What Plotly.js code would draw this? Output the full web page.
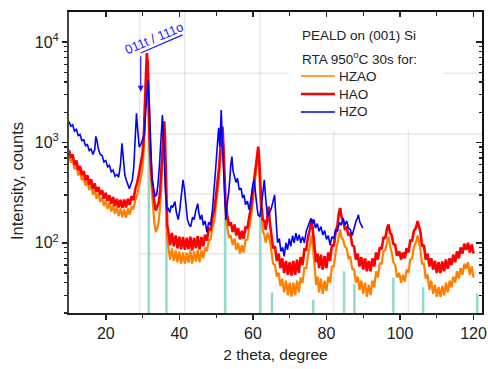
<!DOCTYPE html>
<html><head><meta charset="utf-8">
<script src="https://cdn.plot.ly/plotly-3.0.1.min.js"></script>
<style>html,body{margin:0;padding:0;background:#fff}#chart{width:488px;height:369px}</style>
</head><body><div id="chart"></div>
<script>
// Reference pattern lines (2theta, height)
const refX = [31.7, 36.5, 52.45, 62.0, 65.2, 76.4, 84.8, 87.6, 98.2, 106.3, 121.0];
const refH = [4900, 200, 180, 200, 32, 27, 52, 39, 45, 36, 31];

// Series names and legend heading
const seriesNames = ['HZAO', 'HAO', 'HZO'];
const seriesColors = ['#ff8000', '#ff0000', '#0000ff'];
const legendHeading = ['PEALD on (001) Si', 'RTA 950<sup>o</sup>C 30s for:'];

// HAO (red)
const haoX = [10,10.5,11,11.5,12,12.5,13,13.5,14,14.5,15,15.5,16,16.5,17,17.5,18,18.5,19,19.5,20,20.5,21,21.5,22,22.5,23,23.5,24,24.5,25,25.5,26,26.5,27,27.5,28,28.5,29,29.5,30,30.3,30.6,30.9,31.15,31.4,31.7,32,32.4,32.8,33.2,33.6,34,34.4,34.8,35.1,35.4,35.7,35.9,36.1,36.4,36.7,37,37.5,38,38.5,39,39.5,40,40.5,41,41.5,42,42.5,43,43.5,44,44.5,45,45.5,46,46.5,47,47.5,48,48.5,49,49.5,50,50.4,50.8,51.2,51.5,51.75,52,52.3,52.6,53,53.5,54,54.5,55,55.5,56,56.5,57,57.5,58,58.5,59,59.5,60,60.4,60.8,61.2,61.45,61.7,62,62.3,62.7,63.1,63.5,64,64.3,64.6,65,65.5,66,66.5,67,67.5,68,68.5,69,69.5,70,70.5,71,71.5,72,72.5,73,73.5,74,74.5,75,75.5,76,76.4,76.8,77.2,77.6,78,78.5,79,79.5,80,80.5,81,81.5,82,82.5,83,83.4,83.75,84.1,84.5,85,85.5,86,86.5,87,87.5,88,88.5,89,89.5,90,90.5,91,91.5,92,92.5,93,93.5,94,94.5,95,95.5,96,96.5,96.9,97.3,97.7,98.2,98.7,99.2,99.8,100.3,100.8,101.3,101.8,102.3,102.8,103.3,103.8,104.3,104.8,105.2,105.6,106,106.5,107,107.5,108,108.5,109,109.5,110,110.5,111,111.5,112,112.5,113,113.5,114,114.5,115,115.5,116,116.5,117,117.5,118,118.5,119,119.5,120];
const haoY = [840,700,760,600,660,530,580,470,520,420,470,380,430,345,390,320,360,300,335,275,315,262,298,245,285,232,275,225,268,222,270,225,275,238,290,265,340,390,480,600,780,1100,2600,5200,7800,6200,2100,900,500,330,250,210,235,250,340,520,900,1450,1620,1100,330,150,130,95,125,92,118,88,115,86,114,85,112,86,115,84,112,88,116,86,114,92,120,105,138,135,180,210,300,400,560,900,1300,1440,900,420,240,190,148,160,128,152,118,140,108,132,110,142,140,180,225,330,450,640,860,910,700,360,240,170,165,135,195,230,160,120,88,92,66,78,56,70,50,66,48,64,47,66,48,68,50,72,60,86,85,115,135,172,125,92,64,78,56,76,54,74,56,80,66,96,92,128,150,200,222,180,170,138,142,118,125,95,92,68,78,58,72,54,70,52,66,52,70,58,80,68,90,86,112,112,140,152,125,120,98,95,74,82,68,80,70,88,80,105,105,132,140,165,140,125,92,95,68,78,58,70,54,66,50,64,50,65,52,68,55,70,60,76,64,82,70,90,78,98,85,100,80,96,78];

// HZAO (orange)
const hzaoX = [10,10.5,11,11.5,12,12.5,13,13.5,14,14.5,15,15.5,16,16.5,17,17.5,18,18.5,19,19.5,20,20.5,21,21.5,22,22.5,23,23.5,24,24.5,25,25.5,26,26.5,27,27.5,28,28.5,29,29.5,30,30.3,30.6,30.9,31.2,31.4,31.7,32,32.4,32.8,33.2,33.6,34,34.4,34.8,35.1,35.4,35.7,35.9,36.1,36.4,36.7,37,37.5,38,38.5,39,39.5,40,40.5,41,41.5,42,42.5,43,43.5,44,44.5,45,45.5,46,46.5,47,47.5,48,48.5,49,49.5,50,50.4,50.8,51.2,51.5,51.75,52,52.3,52.6,53,53.5,54,54.5,55,55.5,56,56.5,57,57.5,58,58.5,59,59.5,60,60.4,60.8,61.2,61.45,61.7,62,62.3,62.7,63.1,63.5,64,64.3,64.6,65,65.5,66,66.5,67,67.5,68,68.5,69,69.5,70,70.5,71,71.5,72,72.5,73,73.5,74,74.5,75,75.5,76,76.4,76.8,77.2,77.6,78,78.5,79,79.5,80,80.5,81,81.5,82,82.5,83,83.4,83.75,84.1,84.5,85,85.5,86,86.5,87,87.5,88,88.5,89,89.5,90,90.5,91,91.5,92,92.5,93,93.5,94,94.5,95,95.5,96,96.5,96.9,97.3,97.7,98.2,98.7,99.2,99.8,100.3,100.8,101.3,101.8,102.3,102.8,103.3,103.8,104.3,104.8,105.2,105.6,106,106.5,107,107.5,108,108.5,109,109.5,110,110.5,111,111.5,112,112.5,113,113.5,114,114.5,115,115.5,116,116.5,117,117.5,118,118.5,119,119.5,120];
const hzaoY = [760,630,680,540,590,470,515,420,460,370,410,335,375,300,340,275,310,255,285,232,265,218,250,205,238,195,228,185,220,180,215,178,220,190,230,215,265,300,360,450,560,800,1800,3800,5600,4300,1500,700,380,240,160,128,140,165,230,380,650,1200,1420,900,250,110,90,68,88,66,84,64,82,62,80,62,80,63,84,62,82,65,85,64,84,70,90,82,105,108,140,165,240,320,440,720,1050,1150,720,330,185,145,112,118,95,110,85,100,78,95,80,105,108,140,180,260,360,510,690,730,560,290,190,130,120,100,125,118,105,78,62,60,46,50,37,44,32,42,30,40,29,40,30,42,32,45,40,56,56,75,92,118,85,58,38,46,32,44,31,42,33,46,40,58,58,80,98,125,136,112,108,92,88,70,72,55,54,40,46,34,42,31,40,29,38,30,42,36,52,45,62,62,82,85,105,116,92,82,64,60,45,50,40,48,41,54,50,68,70,92,100,118,98,84,62,62,44,48,34,42,31,38,29,36,29,37,30,40,32,42,36,46,40,52,44,56,48,62,55,64,48,58,45];

// HZO (blue)
const hzoX = [10,10.5,11,11.5,12,12.5,13,13.5,14,14.5,15,15.5,16,16.5,17,17.3,17.6,18,18.5,19,19.5,20,20.5,21,21.5,22,22.5,23,23.5,24,24.4,24.8,25.2,25.6,26,26.4,26.8,27.2,27.6,28,28.35,28.7,29.1,29.5,30,30.5,30.9,31.2,31.5,31.8,32.2,32.6,33,33.4,33.8,34.2,34.6,35,35.4,35.8,36.2,36.6,37,37.4,37.8,38.2,38.8,39.2,39.7,40.1,40.6,41,41.4,41.8,42.2,42.7,43.1,43.6,44,44.5,45,45.3,45.7,46.1,46.5,47,47.5,48,48.5,49,49.5,49.9,50.3,50.7,51,51.4,51.7,52,52.3,52.65,53,53.5,54,54.3,54.6,55,55.4,55.8,56.3,56.8,57.2,57.6,58,58.5,59,59.5,59.9,60.35,60.7,61,61.4,61.9,62.3,62.7,63.1,63.5,64,64.5,65,65.5,65.9,66.3,66.7,67.2,67.6,68.1,68.5,69,69.4,69.9,70.3,70.8,71.2,71.7,72.1,72.6,73,73.5,74,74.5,75,75.4,75.8,76.2,76.6,77,77.5,78,78.5,79,79.5,80,80.5,81,81.5,82,82.5,83,83.5,84,84.5,85,85.5,86,86.5,87,87.5,88,88.4,88.7,89.1,89.5,89.9];
const hzoY = [1620,1450,1500,1300,1350,1170,1200,1040,1060,930,950,830,860,760,850,1150,1050,860,760,740,640,660,570,590,510,530,460,480,450,600,980,700,470,420,380,345,380,420,560,1000,1950,1300,900,950,1050,1200,2200,3400,4200,2500,900,420,350,290,300,380,600,1100,1870,900,330,215,220,200,235,225,258,200,170,210,330,424,340,250,170,150,145,180,170,210,245,200,170,190,150,165,128,160,150,213,330,560,900,1400,900,2100,1000,540,300,170,240,337,600,724,520,450,400,440,337,350,280,300,240,260,213,280,363,424,300,248,190,182,230,330,424,270,182,200,220,260,300,170,100,110,82,90,73,100,85,110,92,118,100,125,105,120,100,115,100,130,145,160,175,155,170,140,155,130,145,120,132,108,118,95,115,110,135,130,160,150,176,150,165,140,135,118,140,163,175,190,160,150,140];

const font = "'Liberation Sans', Arial, sans-serif";
const xRange = [10, 122.3];
const yRange = [1.3, 4.3];
const xMajor = [20, 40, 60, 80, 100, 120];
const xMinor = [30, 50, 70, 90, 110];
const yMajor = [100, 1000, 10000];
const yMajorText = ['10<sup>2</sup>', '10<sup>3</sup>', '10<sup>4</sup>'];
const yMinor = [20,30,40,50,60,70,80,90,200,300,400,500,600,700,800,900,2000,3000,4000,5000,6000,7000,8000,9000];

// faint background grid of the original figure (interrupted by the legend box)
const gridX = [29.2, 41.45, 61.9, 82.0, 102.3];
const gridY = [4900, 1217, 307, 77.6];
const boxX = [69.5, 111.7];   // legend box, data units
const boxBottom = 1330;
const yTop = 20000, yBottom = 19.95;

const traces = [
  {type:'bar', x:refX, y:refH, width:0.7, marker:{color:'rgb(145,218,208)', line:{width:0}}, showlegend:false, hoverinfo:'skip'},
  {type:'scatter', mode:'lines', name:seriesNames[0], x:hzaoX, y:hzaoY, line:{color:seriesColors[0], width:2.2}, showlegend:false},
  {type:'scatter', mode:'lines', name:seriesNames[1], x:haoX, y:haoY, line:{color:seriesColors[1], width:2.6}, showlegend:false},
  {type:'scatter', mode:'lines', name:seriesNames[2], x:hzoX, y:hzoY, line:{color:seriesColors[2], width:1.6}, showlegend:false},
  {type:'scatter', x:[], y:[], xaxis:'x2', yaxis:'y2', showlegend:false, hoverinfo:'skip'}
];

// pixel helpers for the legend block (plot area: left 69, width 413, top 12, height 301)
const px = v => (v - 69) / 413;
const py = v => 1 - (v - 12) / 301;

const gridLine = {color:'rgba(0,0,0,0.09)', width:1.5};
const shapes = [];
gridX.forEach(v => {
  const inBox = v > boxX[0] && v < boxX[1];
  shapes.push({type:'line', layer:'below', xref:'x', yref:'y', x0:v, x1:v, y0:yBottom, y1:inBox ? boxBottom : yTop, line:gridLine});
});
gridY.forEach(v => {
  if (v > boxBottom) {
    shapes.push({type:'line', layer:'below', xref:'x', yref:'y', x0:gridX[0], x1:boxX[0], y0:v, y1:v, line:gridLine});
    shapes.push({type:'line', layer:'below', xref:'x', yref:'y', x0:boxX[1], x1:xRange[1], y0:v, y1:v, line:gridLine});
  } else {
    shapes.push({type:'line', layer:'below', xref:'x', yref:'y', x0:gridX[0], x1:xRange[1], y0:v, y1:v, line:gridLine});
  }
});
// bracket line of the peak label
shapes.push({type:'line', xref:'x', yref:'y', x0:29.5, y0:7800, x1:40.9, y1:11800, line:{color:'#1a1aff', width:1.2}});

const legendRows = [76, 94, 112];
const legendWidths = [1.6, 2.6, 1.4];
const annotations = [
  {xref:'x', yref:'y', x:29.5, y:Math.log10(3200), ax:0, ay:-37, showarrow:true, arrowhead:2, arrowsize:1, arrowwidth:1.2, arrowcolor:'#1a1aff', text:''},
  {xref:'x', yref:'y', x:33.0, y:Math.log10(10900), text:'011t / 111o', showarrow:false, textangle:-23, font:{size:13, color:'#1a1aff', family:font}},
  {xref:'paper', yref:'paper', x:px(17), y:py(181), text:'Intensity, counts', showarrow:false, textangle:-90, xanchor:'center', yanchor:'middle', font:{size:16.5, color:'#222', family:font}},
  {xref:'paper', yref:'paper', x:px(300), y:py(36), text:legendHeading[0], showarrow:false, xanchor:'left', yanchor:'middle', font:{size:13.5, color:'#222', family:font}},
  {xref:'paper', yref:'paper', x:px(300), y:py(58), text:legendHeading[1], showarrow:false, xanchor:'left', yanchor:'middle', font:{size:13.5, color:'#222', family:font}}
];
seriesNames.forEach((n, i) => {
  shapes.push({type:'line', layer:'above', xref:'paper', yref:'paper', x0:px(301), x1:px(335), y0:py(legendRows[i]), y1:py(legendRows[i]), line:{color:seriesColors[i], width:legendWidths[i]}});
  annotations.push({xref:'paper', yref:'paper', x:px(337), y:py(legendRows[i]), text:n, showarrow:false, xanchor:'left', yanchor:'middle', font:{size:13.5, color:'#222', family:font}});
});

const layout = {
  width:488, height:369,
  margin:{l:69, r:6, t:12, b:56},
  paper_bgcolor:'#fff', plot_bgcolor:'#fff',
  font:{family:font, size:15, color:'#222'},
  showlegend:false,
  barmode:'overlay',
  xaxis:{range:xRange, tickmode:'array', tickvals:xMajor, ticks:'outside', ticklen:5, tickwidth:1.5, tickcolor:'#222',
    minor:{tickmode:'array', tickvals:xMinor, ticks:'outside', ticklen:3, tickwidth:1.2, tickcolor:'#222', showgrid:false},
    showline:true, linewidth:2, linecolor:'#222', showgrid:false, zeroline:false,
    tickfont:{size:16, color:'#222'},
    title:{text:'2 theta, degree', font:{size:15.5, color:'#222'}, standoff:8}},
  yaxis:{type:'log', range:yRange, tickmode:'array', tickvals:yMajor, ticktext:yMajorText, ticks:'outside', ticklen:5, tickwidth:1.5, tickcolor:'#222',
    minor:{tickmode:'array', tickvals:yMinor, ticks:'outside', ticklen:3, tickwidth:1.2, tickcolor:'#222', showgrid:false},
    showline:true, linewidth:2, linecolor:'#444', showgrid:false, zeroline:false,
    tickfont:{size:16, color:'#222'}},
  xaxis2:{overlaying:'x', side:'top', anchor:'y2', range:xRange, tickmode:'array', tickvals:xMajor, ticks:'inside', ticklen:5, tickwidth:1.5, tickcolor:'#222',
    minor:{tickmode:'array', tickvals:xMinor, ticks:'inside', ticklen:4, tickwidth:1.2, tickcolor:'#222', showgrid:false},
    showticklabels:false, showline:true, linewidth:2, linecolor:'#111', showgrid:false, zeroline:false},
  yaxis2:{overlaying:'y', side:'right', anchor:'x2', type:'log', range:yRange, tickmode:'array', tickvals:yMajor, ticks:'inside', ticklen:6, tickwidth:1.5, tickcolor:'#222',
    minor:{tickmode:'array', tickvals:yMinor, ticks:'inside', ticklen:3, tickwidth:1.2, tickcolor:'#222', showgrid:false},
    showticklabels:false, showline:true, linewidth:1.5, linecolor:'#111', showgrid:false, zeroline:false},
  shapes:shapes,
  annotations:annotations
};

Plotly.newPlot('chart', traces, layout, {displayModeBar:false, staticPlot:true});
</script>
</body></html>
